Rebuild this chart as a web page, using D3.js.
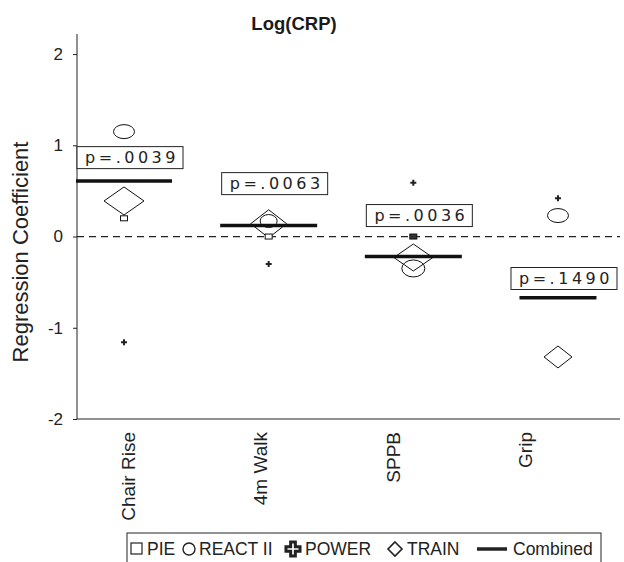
<!DOCTYPE html>
<html>
<head>
<meta charset="utf-8">
<script src="https://cdn.jsdelivr.net/npm/d3@7"></script>
<style>
  body { margin: 0; background: #fff; }
  svg { display: block; font-family: "Liberation Sans", Arial, sans-serif; }
</style>
</head>
<body>
<svg width="624" height="562"></svg>
<script>
// values
const categories = ["Chair Rise", "4m Walk", "SPPB", "Grip"];
const pie      = [0.20, 0.00, 0.00, null];
const react    = [1.15, 0.17, -0.35, 0.23];
const power    = [-1.16, -0.30, 0.59, 0.42];
const train    = [0.39, 0.14, -0.23, -1.32];
const combined = [0.61, 0.12, -0.22, -0.67];
const pValues  = ["p=.0039", "p=.0063", "p=.0036", "p=.1490"];
const pLabelY  = [0.865, 0.58, 0.23, -0.46];
const yTicks   = [-2, -1, 0, 1, 2];

// marker sizes (px), vary per study in the original
const trainSize = [[40, 28], [36, 28], [39, 27], [28, 22]];
const reactSize = [[21, 14], [17, 13], [23, 17], [21, 14]];
const lineWidth = [96, 97, 97, 77];

const svg = d3.select("svg");

const y = d3.scaleLinear().domain([-2, 2.22]).range([419, 34]);
const x = d3.scalePoint().domain(categories).range([77, 605]).padding(0.325);
const xLab = d3.scalePoint().domain(categories).range([128, 525]);

// title
svg.append("text")
  .attr("x", 294).attr("y", 30)
  .attr("text-anchor", "middle")
  .style("font-size", "18.5px").style("font-weight", "bold")
  .attr("fill", "#1a1a1a")
  .text("Log(CRP)");

// y axis
const yAxis = svg.append("g")
  .attr("transform", "translate(77,0)")
  .call(d3.axisLeft(y).tickValues(yTicks).tickSize(4).tickPadding(10).tickFormat(d => String(d)));
yAxis.select(".domain").attr("d", `M0,${y.range()[1]}V${y.range()[0]}`).attr("stroke", "#222");
yAxis.selectAll("line").attr("stroke", "#222");
yAxis.selectAll("text")
  .style("font-size", "17px")
  .style("font-family", "Liberation Sans, Arial, sans-serif")
  .attr("fill", "#222");

svg.append("text")
  .attr("transform", `translate(28,252) rotate(-90)`)
  .attr("text-anchor", "middle")
  .style("font-size", "22px").attr("fill", "#222")
  .text("Regression Coefficient");

// x axis line
svg.append("line")
  .attr("x1", 77).attr("x2", 620)
  .attr("y1", y(-2)).attr("y2", y(-2))
  .attr("stroke", "#222");

svg.selectAll(".xlab")
  .data(categories)
  .join("text")
    .attr("class", "xlab")
    .attr("transform", d => `translate(${xLab(d) + 7},432) rotate(-90)`)
    .attr("text-anchor", "end")
    .style("font-size", "19px").attr("fill", "#222")
    .text(d => d);

// zero reference
svg.append("line")
  .attr("x1", 77).attr("x2", 620)
  .attr("y1", y(0)).attr("y2", y(0))
  .attr("stroke", "#222").attr("stroke-width", 1.2)
  .attr("stroke-dasharray", "7,5");

const idx = d3.range(categories.length);

// combined estimate lines
svg.selectAll(".comb")
  .data(idx)
  .join("line")
    .attr("class", "comb")
    .attr("x1", i => x(categories[i]) - lineWidth[i] / 2)
    .attr("x2", i => x(categories[i]) + lineWidth[i] / 2)
    .attr("y1", i => y(combined[i]))
    .attr("y2", i => y(combined[i]))
    .attr("stroke", "#111").attr("stroke-width", 3.5);

// TRAIN diamonds
svg.selectAll(".train")
  .data(idx)
  .join("path")
    .attr("class", "train")
    .attr("transform", i => `translate(${x(categories[i])},${y(train[i])})`)
    .attr("d", i => {
      const [w, h] = trainSize[i];
      return `M0,${-h / 2}L${w / 2},0L0,${h / 2}L${-w / 2},0Z`;
    })
    .attr("fill", "none").attr("stroke", "#111").attr("stroke-width", 1);

// REACT II circles
svg.selectAll(".react")
  .data(idx)
  .join("ellipse")
    .attr("class", "react")
    .attr("cx", i => x(categories[i]))
    .attr("cy", i => y(react[i]))
    .attr("rx", i => reactSize[i][0] / 2)
    .attr("ry", i => reactSize[i][1] / 2)
    .attr("fill", "none").attr("stroke", "#111").attr("stroke-width", 1);

// PIE squares
svg.selectAll(".pie")
  .data(idx.filter(i => pie[i] != null))
  .join("rect")
    .attr("class", "pie")
    .attr("x", i => x(categories[i]) - 3.5)
    .attr("y", i => y(pie[i]) - 2.5)
    .attr("width", 7).attr("height", 5)
    .attr("fill", i => i === 2 ? "#333" : "#fff")
    .attr("stroke", "#111").attr("stroke-width", 1);

// POWER crosses
svg.selectAll(".power")
  .data(idx)
  .join("path")
    .attr("class", "power")
    .attr("transform", i => `translate(${x(categories[i])},${y(power[i])})`)
    .attr("d", d3.symbol(d3.symbolCross, 20))
    .attr("fill", "#222");

// p-value boxes
const pBox = svg.selectAll(".pbox")
  .data(idx)
  .join("g")
    .attr("class", "pbox")
    .attr("transform", i => `translate(${x(categories[i]) + 6},${y(pLabelY[i])})`);

pBox.append("rect")
  .attr("x", -53).attr("y", -11)
  .attr("width", 106).attr("height", 22)
  .attr("fill", "#fff").attr("stroke", "#222").attr("stroke-width", 1);

pBox.append("text")
  .attr("x", 2)
  .attr("text-anchor", "middle")
  .attr("dy", "0.36em")
  .style("font-family", "DejaVu Sans, sans-serif")
  .style("font-size", "16px").style("letter-spacing", "3.5px")
  .attr("fill", "#222")
  .text(i => pValues[i]);

// legend
const legend = svg.append("g");
legend.append("rect")
  .attr("x", 127).attr("y", 533)
  .attr("width", 474).attr("height", 40)
  .attr("fill", "#fff").attr("stroke", "#222");

const lt = (x0, s) => legend.append("text")
  .attr("x", x0).attr("y", 555)
  .style("font-size", "17.5px").attr("fill", "#222")
  .text(s);

legend.append("rect").attr("x", 131).attr("y", 543).attr("width", 11).attr("height", 11)
  .attr("fill", "none").attr("stroke", "#222").attr("stroke-width", 1.2);
lt(147, "PIE");
legend.append("circle").attr("cx", 189).attr("cy", 549).attr("r", 6)
  .attr("fill", "none").attr("stroke", "#222").attr("stroke-width", 1.4);
lt(199, "REACT II");
legend.append("path").attr("transform", "translate(293,549)")
  .attr("d", d3.symbol(d3.symbolCross, 110))
  .attr("fill", "#fff").attr("stroke", "#222").attr("stroke-width", 3);
lt(305, "POWER");
legend.append("path").attr("transform", "translate(395,549)")
  .attr("d", "M0,-7L7,0L0,7L-7,0Z")
  .attr("fill", "none").attr("stroke", "#222").attr("stroke-width", 1.6);
lt(407, "TRAIN");
legend.append("line").attr("x1", 477).attr("x2", 507).attr("y1", 549).attr("y2", 549)
  .attr("stroke", "#222").attr("stroke-width", 3.5);
lt(513, "Combined");
</script>
</body>
</html>
